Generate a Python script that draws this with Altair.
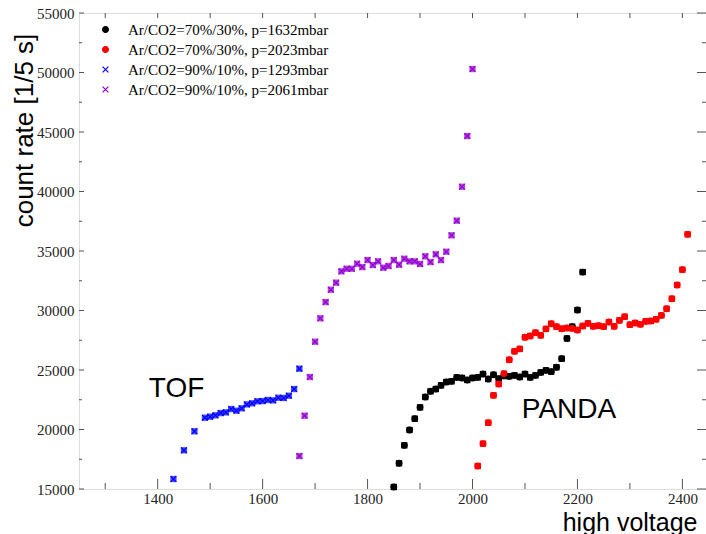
import altair as alt
import pandas as pd

series_names = [
    "Ar/CO2=70%/30%, p=1632mbar",
    "Ar/CO2=70%/30%, p=2023mbar",
    "Ar/CO2=90%/10%, p=1293mbar",
    "Ar/CO2=90%/10%, p=2061mbar",
]
series_colors = ["#000000", "#ff0000", "#0000ff", "#9400d3"]
legend_shapes = ["circle", "circle", "M-1,-1L1,1M-1,1L1,-1", "M-1,-1L1,1M-1,1L1,-1"]

black_x = [1850, 1860, 1870, 1880, 1890, 1900, 1910, 1920, 1930, 1940, 1950, 1960, 1970,
           1980, 1990, 2000, 2010, 2020, 2030, 2040, 2050, 2060, 2070, 2080, 2090, 2100,
           2110, 2120, 2130, 2140, 2150, 2160, 2170, 2180, 2190, 2200, 2210]
black_y = [15170, 17160, 18670, 19960, 20910, 21860, 22730, 23210, 23400, 23710, 23990,
           24050, 24380, 24330, 24160, 24330, 24380, 24660, 24240, 24600, 24270, 24500,
           24470, 24550, 24410, 24660, 24380, 24550, 24800, 24970, 24860, 25230, 25950,
           27650, 28640, 30040, 33230]

red_x = [2010, 2020, 2030, 2040, 2050, 2060, 2070, 2080, 2090, 2100, 2110, 2120, 2130, 2140,
         2150, 2160, 2170, 2180, 2190, 2200, 2210, 2220, 2230, 2240, 2250, 2260, 2270, 2280,
         2290, 2300, 2310, 2320, 2330, 2340, 2350, 2360, 2370, 2380, 2390, 2400, 2410]
red_y = [16930, 18810, 20570, 22870, 23820, 24690, 25860, 26570, 26770, 27750, 27860, 28140,
         27910, 28450, 28890, 28640, 28470, 28530, 28500, 28360, 28700, 28920, 28670, 28720,
         28640, 29030, 28670, 29170, 29480, 28810, 28950, 28840, 29090, 29120, 29260, 29590,
         30150, 30990, 32140, 33430, 36400]

blue_x = [1430, 1450, 1470, 1490, 1500, 1510, 1520, 1530, 1540, 1550, 1560, 1570, 1580,
          1590, 1600, 1610, 1620, 1630, 1640, 1650, 1660, 1670]
blue_y = [15840, 18250, 19850, 20990, 21080, 21190, 21380, 21440, 21720, 21580, 21780,
          22110, 22200, 22370, 22390, 22480, 22450, 22670, 22650, 22840, 23400, 25110]

purple_x = [1670, 1680, 1690, 1700, 1710, 1720, 1730, 1740, 1750, 1760, 1770, 1780, 1790,
            1800, 1810, 1820, 1830, 1840, 1850, 1860, 1870, 1880, 1890, 1900, 1910, 1920,
            1930, 1940, 1950, 1960, 1970, 1980, 1990, 2000]
purple_y = [17770, 21160, 24410, 27380, 29340, 30710, 31750, 32340, 33290, 33510, 33510,
            33930, 33650, 34240, 33820, 34130, 33600, 33740, 34240, 33850, 34350, 34130,
            34130, 33910, 34550, 34070, 34720, 34240, 34940, 36320, 37550, 40400, 44660,
            50290]

x_major = [1400, 1600, 1800, 2000, 2200, 2400]
x_minor = [1300, 1500, 1700, 1900, 2100, 2300]
y_major = [15000, 20000, 25000, 30000, 35000, 40000, 45000, 50000, 55000]
y_minor = [17500, 22500, 27500, 32500, 37500, 42500, 47500, 52500]

ann_text = ["TOF", "PANDA"]
ann_x = [1383, 2094]
ann_y = [22730, 20970]

rows = []
for name, xs, ys in zip(series_names, [black_x, red_x, blue_x, purple_x],
                        [black_y, red_y, blue_y, purple_y]):
    for xv, yv in zip(xs, ys):
        rows.append({"series": name, "hv": xv, "rate": yv})
df = pd.DataFrame(rows)

W, H = 627, 476
xscale = alt.Scale(domain=[1250, 2445], nice=False, zero=False)
yscale = alt.Scale(domain=[15000, 55000], nice=False, zero=False)
col_scale = alt.Scale(domain=series_names, range=series_colors)
shape_scale = alt.Scale(domain=series_names, range=legend_shapes)

x_axis = alt.Axis(values=x_major, ticks=False, domain=False, grid=False, format="d",
                  labelFont="Liberation Serif", labelFontSize=15, labelColor="#222",
                  labelPadding=2, labelFlush=False, labelOverlap=False,
                  title="high voltage", titleFont="Liberation Sans", titleFontSize=25,
                  titleFontWeight="normal", titleColor="#000", titleX=618, titleY=41,
                  titleAlign="right", titleBaseline="alphabetic")
y_axis = alt.Axis(values=y_major, ticks=False, domain=False, grid=False, format="d",
                  labelFont="Liberation Serif", labelFontSize=15, labelColor="#222",
                  labelPadding=5, labelFlush=False, labelOverlap=False,
                  title="count rate [1/5 s]", titleFont="Liberation Sans", titleFontSize=26,
                  titleFontWeight="normal", titleColor="#000", titleX=-47, titleY=117,
                  titleAngle=270, titleAlign="center", titleBaseline="alphabetic")

leg = alt.Legend(title=None, orient="none", legendX=19, legendY=9,
                 labelFont="Liberation Serif", labelFontSize=15, labelColor="#000",
                 labelLimit=0, symbolSize=34, symbolStrokeWidth=1.2, labelOffset=15,
                 rowPadding=4)

base = alt.Chart(df)

squares_solid = base.transform_filter(
    alt.FieldOneOfPredicate(field="series", oneOf=series_names[:2])
).mark_square(size=40, opacity=1).encode(
    x=alt.X("hv:Q", scale=xscale, axis=x_axis),
    y=alt.Y("rate:Q", scale=yscale, axis=y_axis),
    fill=alt.Fill("series:N", scale=col_scale, legend=leg),
)

squares_light = base.transform_filter(
    alt.FieldOneOfPredicate(field="series", oneOf=series_names[2:])
).mark_square(size=40, opacity=0.7).encode(
    x=alt.X("hv:Q", scale=xscale),
    y=alt.Y("rate:Q", scale=yscale),
    fill=alt.Fill("series:N", scale=col_scale, legend=leg),
)

points = base.mark_point(filled=True, size=32, strokeWidth=1.2, opacity=1).encode(
    x=alt.X("hv:Q", scale=xscale),
    y=alt.Y("rate:Q", scale=yscale),
    fill=alt.Fill("series:N", scale=col_scale, legend=leg),
    stroke=alt.Stroke("series:N", scale=col_scale, legend=leg),
    shape=alt.Shape("series:N", scale=shape_scale, legend=leg),
)

ann = alt.Chart(pd.DataFrame({"hv": ann_x, "rate": ann_y, "label": ann_text})).mark_text(
    font="Liberation Sans", fontSize=28, align="left", baseline="alphabetic", color="#000"
).encode(x=alt.X("hv:Q", scale=xscale), y=alt.Y("rate:Q", scale=yscale), text="label:N")

tick_color = "#555"


def xticks(vals, y0, y1):
    return alt.Chart(pd.DataFrame({"hv": vals})).mark_rule(color=tick_color, strokeWidth=1).encode(
        x=alt.X("hv:Q", scale=xscale), y=alt.value(y0), y2=alt.value(y1))


def yticks(vals, x0, x1):
    return alt.Chart(pd.DataFrame({"rate": vals})).mark_rule(color=tick_color, strokeWidth=1).encode(
        y=alt.Y("rate:Q", scale=yscale), x=alt.value(x0), x2=alt.value(x1))


tick_layers = [
    xticks(x_major, H, H - 10), xticks(x_minor, H, H - 6),
    xticks(x_major + x_minor, 0, 5),
    yticks(y_major, 0, 5), yticks(y_minor, 0, 3),
    yticks(y_major, W, W - 9), yticks(y_minor, W, W - 4),
]

chart = alt.layer(squares_solid, squares_light, points, ann, *tick_layers).properties(
    width=W, height=H,
    autosize=alt.AutoSizeParams(type="none"),
    padding={"left": 79, "top": 13, "right": 0, "bottom": 45},
).configure_view(stroke="#666", strokeWidth=1).configure(background="white")

chart.save("out.html", embed_options={"renderer": "svg", "actions": False})
